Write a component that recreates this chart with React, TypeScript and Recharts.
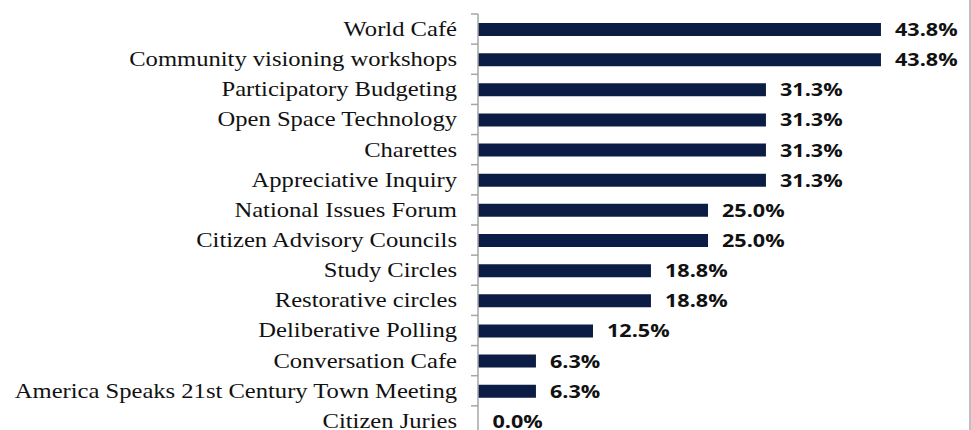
import React from 'react';
import { BarChart, Bar, XAxis, YAxis, LabelList, Rectangle } from 'recharts';

const categories = [
  'World Café',
  'Community visioning workshops',
  'Participatory Budgeting',
  'Open Space Technology',
  'Charettes',
  'Appreciative Inquiry',
  'National Issues Forum',
  'Citizen Advisory Councils',
  'Study Circles',
  'Restorative circles',
  'Deliberative Polling',
  'Conversation Cafe',
  'America Speaks 21st Century Town Meeting',
  'Citizen Juries',
];

const shares = [43.8, 43.8, 31.3, 31.3, 31.3, 31.3, 25.0, 25.0, 18.8, 18.8, 12.5, 6.3, 6.3, 0.0];

const data = categories.map((name, i) => ({ name, value: shares[i] }));

const CHART_W = 971;
const CHART_H = 440;
const MARGIN = { top: 14, right: 33, bottom: 4, left: 0 };
const BAND = (CHART_H - MARGIN.top - MARGIN.bottom) / categories.length;

const CategoryTick = ({ x, y, payload }: any) => (
  <g>
    {/* tick marks sit between categories */}
    <line x1={x + 14} x2={x + 21} y1={y - BAND / 2} y2={y - BAND / 2} stroke="#A6A6A6" strokeWidth={1.5} />
    <g transform={`translate(${x},${y})`}>
      <text
        transform="scale(1.2,1)"
        textAnchor="end"
        dy="0.34em"
        fontFamily="'Liberation Serif', 'Times New Roman', serif"
        fontSize={20.5}
        fill="#111"
      >
        {payload.value}
      </text>
    </g>
  </g>
);

const ValueLabel = ({ x, y, width, height, value }: any) => (
  <g transform={`translate(${Number(x) + Number(width || 0) + 14},${Number(y) + Number(height) / 2})`}>
    <text
      transform="scale(1.2,1)"
      dy="0.36em"
      fontFamily="'Open Sans', sans-serif"
      fontWeight={700}
      fontSize={18}
      fill="#111"
    >
      {`${Number(value).toFixed(1)}%`}
    </text>
  </g>
);

// zero bars still need an entry so the 0.0% label shows, but draw nothing
const BarShape = (props: any) =>
  props.payload?.value === 0 ? <g /> : <Rectangle {...props} />;

export default function App() {
  return (
    <div
      style={{
        position: 'absolute',
        left: 0,
        top: 0,
        width: CHART_W,
        height: 430,
        overflow: 'hidden',
        background: '#fff',
        borderRight: '2px solid #BFBFBF',
        boxSizing: 'border-box',
      }}
    >
      <BarChart width={CHART_W} height={CHART_H} data={data} layout="vertical" margin={MARGIN}>
        <XAxis type="number" domain={[0, 50]} hide />
        <YAxis
          type="category"
          dataKey="name"
          width={478}
          tickLine={false}
          tickSize={0}
          tickMargin={21}
          axisLine={{ stroke: '#A6A6A6', strokeWidth: 1.5 }}
          tick={<CategoryTick />}
          interval={0}
        />
        <Bar
          dataKey="value"
          fill="#0C1D45"
          barSize={13}
          minPointSize={0.5}
          shape={BarShape}
          isAnimationActive={false}
        >
          <LabelList dataKey="value" content={<ValueLabel />} />
        </Bar>
      </BarChart>
    </div>
  );
}
